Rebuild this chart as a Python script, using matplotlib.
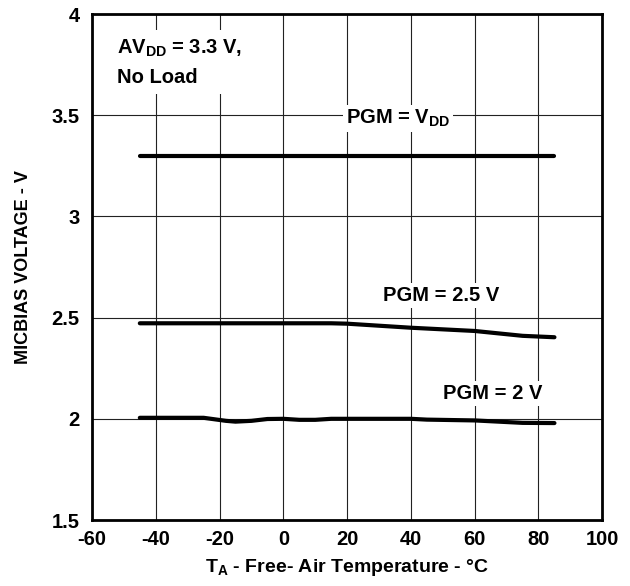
import numpy as np
import matplotlib.pyplot as plt

plt.rcParams['font.family'] = ['Liberation Sans', 'DejaVu Sans']
plt.rcParams['font.weight'] = 'bold'
plt.rcParams['mathtext.fontset'] = 'custom'
plt.rcParams['mathtext.rm'] = 'Liberation Sans:bold'
plt.rcParams['mathtext.bf'] = 'Liberation Sans:bold'

# temperature (C) and MICBIAS voltage
t_vdd = [-45, -20, 0, 20, 40, 60, 85]
v_vdd = [3.30, 3.30, 3.30, 3.30, 3.30, 3.30, 3.30]

t_25 = [-45, -20, 0, 15, 20, 40, 60, 70, 75, 85]
v_25 = [2.472, 2.472, 2.472, 2.472, 2.47, 2.45, 2.434, 2.418, 2.41, 2.403]

t_2 = [-45, -25, -18, -15, -10, -5, 0, 5, 10, 15, 40, 45, 60, 75, 85]
v_2 = [2.005, 2.005, 1.99, 1.986, 1.99, 1.999, 2.0, 1.995, 1.995, 2.0, 2.0, 1.996, 1.992, 1.98, 1.979]

xticks = [-60, -40, -20, 0, 20, 40, 60, 80, 100]
yticks = [1.5, 2, 2.5, 3, 3.5, 4]

fig = plt.figure(figsize=(6.3, 5.86), dpi=100)
ax = fig.add_axes([0.146, 0.1126, 0.81, 0.8635])

for t, v in [(t_vdd, v_vdd), (t_25, v_25), (t_2, v_2)]:
    ax.plot(t, v, color='black', lw=3, solid_capstyle='round', zorder=3)

ax.set_xlim(-60, 100)
ax.set_ylim(1.5, 4)
ax.set_xticks(xticks)
ax.set_yticks(yticks)
ax.set_xticklabels([str(x) for x in xticks])
ax.set_yticklabels(['1.5', '2', '2.5', '3', '3.5', '4'])
ax.tick_params(length=0, labelsize=14.5)
ax.tick_params(axis='x', pad=7)
ax.tick_params(axis='y', pad=9)
ax.grid(True, color='#222222', lw=0.8)
for s in ax.spines.values():
    s.set_linewidth(2)

box = dict(facecolor='white', edgecolor='none', pad=2)
ax.text(-52, 3.76, 'AV$_{\\mathregular{DD}}$ = 3.3 V,\nNo Load', fontsize=14.5,
        va='center', ha='left', linespacing=1.6,
        bbox=dict(facecolor='white', edgecolor='none', pad=5), zorder=4)
ax.text(36, 3.485, 'PGM = V$_{\\mathregular{DD}}$', fontsize=14.5, ha='center', va='center', bbox=box, zorder=4)
ax.text(49.5, 2.61, 'PGM = 2.5 V', fontsize=14.5, ha='center', va='center', bbox=box, zorder=4)
ax.text(65.5, 2.125, 'PGM = 2 V', fontsize=14.5, ha='center', va='center', bbox=box, zorder=4)

ax.set_xlabel('T$_{\\mathregular{A}}$ - Free- Air Temperature - °C', fontsize=14,
              fontweight='bold', labelpad=6)
ax.set_ylabel('MICBIAS VOLTAGE - V', fontsize=13, fontweight='bold', labelpad=14)

fig.savefig('out.png', dpi=100)
